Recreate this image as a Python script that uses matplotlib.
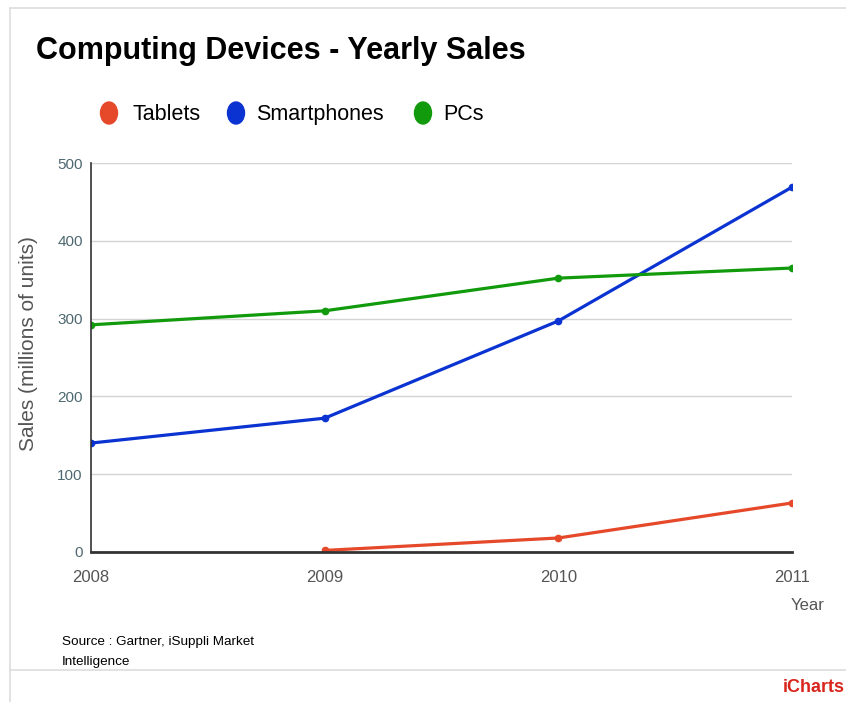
import matplotlib
matplotlib.use('Agg')
import matplotlib.pyplot as plt
import numpy as np
from matplotlib.lines import Line2D
from matplotlib.patches import Ellipse

plt.rcParams['font.family'] = ['Liberation Sans', 'DejaVu Sans']

years = [2008, 2009, 2010, 2011]
tablets = [np.nan, 2, 18, 63]
smartphones = [140, 172, 297, 469]
pcs = [292, 310, 352, 365]

series = [('Tablets', tablets, '#e5492a'),
          ('Smartphones', smartphones, '#0a33d1'),
          ('PCs', pcs, '#119a0c')]

W, H = 846, 702
fig = plt.figure(figsize=(W / 100, H / 100), dpi=100)
ax = fig.add_axes([0.1076, 0.2137, 0.8286, 0.5541])

for name, vals, col in series:
    ax.plot(years, vals, color=col, lw=2.3, marker='o', ms=4.5, solid_capstyle='round')

ax.set_xlim(2008, 2011)
ax.set_ylim(0, 500)
ax.set_xticks(years)
ax.set_yticks([0, 100, 200, 300, 400, 500])
ax.grid(axis='y', color='#d4d4d4', lw=1)
ax.set_axisbelow(True)
for s in ['top', 'right']:
    ax.spines[s].set_visible(False)
ax.spines['left'].set_color('#333333')
ax.spines['left'].set_linewidth(1.2)
ax.spines['bottom'].set_color('#333333')
ax.spines['bottom'].set_linewidth(2)
ax.tick_params(length=0)
ax.tick_params(axis='y', colors='#4e6870', pad=6, labelsize=11)
ax.tick_params(axis='x', colors='#555555', pad=13, labelsize=12)
ax.set_ylabel('Sales (millions of units)', fontsize=15, color='#555555')
ax.yaxis.set_label_coords(-0.076, 0.537)
fig.text(808 / W, 1 - 605 / H, 'Year', fontsize=12, color='#555555', ha='center', va='center')

# title
fig.text(36 / W, 1 - 51 / H, 'Computing Devices - Yearly Sales', fontsize=22, fontweight='bold',
         ha='left', va='center')

# legend: ellipse swatch + label (labels share one baseline)
leg_y = 1 - 113 / H
swatch_x = [109, 236, 423]
label_x = [132, 256, 443]
for (name, vals, col), sx, lx in zip(series, swatch_x, label_x):
    fig.add_artist(Ellipse((sx / W, leg_y), 17 / W, 22 / H, color=col,
                           transform=fig.transFigure))
    fig.text(lx / W, leg_y - 7.5 / H, name, fontsize=15.5, ha='left', va='baseline')

# source and footer
fig.text(62 / W, 1 - 642 / H, 'Source : Gartner, iSuppli Market', fontsize=9.7, ha='left', va='center')
fig.text(62 / W, 1 - 662 / H, 'Intelligence', fontsize=9.7, ha='left', va='center')
fig.text(845 / W, 1 - 688 / H, 'iCharts', fontsize=13, fontweight='bold', color='#d9261c',
         ha='right', va='center')

# frame lines
fig.add_artist(Line2D([10 / W, 1.0], [1 - 8 / H, 1 - 8 / H], color='#dddddd', lw=1.2, transform=fig.transFigure))
fig.add_artist(Line2D([10 / W, 10 / W], [0.0, 1 - 8 / H], color='#dddddd', lw=1.2, transform=fig.transFigure))
fig.add_artist(Line2D([10 / W, 1.0], [1 - 670 / H, 1 - 670 / H], color='#dddddd', lw=1.2, transform=fig.transFigure))

fig.savefig('out.png', dpi=100)
